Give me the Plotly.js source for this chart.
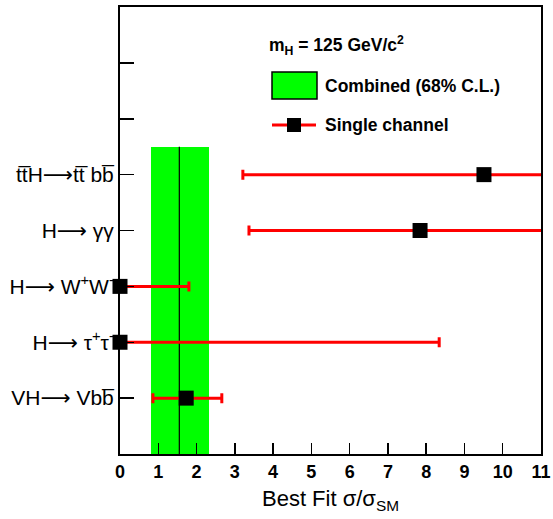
<!DOCTYPE html>
<html>
<head>
<meta charset="utf-8">
<script src="https://cdn.plot.ly/plotly-3.0.1.min.js"></script>
<style>html,body{margin:0;padding:0;background:#fff;}#chart{width:553px;height:519px;}</style>
</head>
<body>
<div id="chart"></div>
<script>
// Channels (bottom to top)
const channels = ["VH\u27f6 Vb\u0062\u0305", "H\u27f6 \u03c4<sup>+</sup>\u03c4<sup>-</sup>", "H\u27f6 W<sup>+</sup>W<sup>-</sup>", "H\u27f6 \u03b3\u03b3", "t\u0074\u0305H\u27f6t\u0074\u0305 b\u0062\u0305"];
const channelPos = [1, 2, 3, 4, 5];
const bestFit = [1.73, 0, 0, 7.84, 9.51];
const errLow = [0.87, 0, 0, 4.47, 6.30];
const errHigh = [0.93, 8.34, 1.80, 6.0, 6.0];
// Combined result
const combinedBest = 1.55;
const combinedLow = 0.81;
const combinedHigh = 2.33;
const combinedTop = 5.5;
const xTicks = [0,1,2,3,4,5,6,7,8,9,10,11];

const yTickVals = [1,2,3,4,5,6,7,8];
const yTickText = channels.concat(["", "", ""]);

const FONT = "Liberation Sans, Arial, DejaVu Sans";

const traces = [
  {
    type: "bar", orientation: "v",
    x: [(combinedLow + combinedHigh) / 2],
    y: [combinedTop], base: [0],
    width: [combinedHigh - combinedLow],
    marker: {color: "#00ff00", line: {width: 0}},
    hoverinfo: "skip", showlegend: false
  },
  {
    type: "scatter", mode: "lines",
    x: [combinedBest, combinedBest], y: [0, combinedTop],
    line: {color: "#000", width: 1.2},
    hoverinfo: "skip", showlegend: false
  },
  {
    type: "scatter", mode: "markers",
    x: bestFit, y: channelPos,
    marker: {symbol: "square", size: 1, color: "rgba(0,0,0,0)"},
    error_x: {type: "data", symmetric: false, array: errHigh, arrayminus: errLow,
              color: "#ff0000", thickness: 3, width: 5},
    cliponaxis: true,
    showlegend: false
  },
  {
    type: "scatter", mode: "markers",
    x: bestFit, y: channelPos,
    marker: {symbol: "square", size: 15, color: "#000"},
    cliponaxis: false,
    showlegend: false
  }
];

const layout = {
  width: 553, height: 519,
  margin: {l: 120, r: 12, t: 7, b: 65},
  paper_bgcolor: "#fff", plot_bgcolor: "#fff",
  showlegend: false,
  bargap: 0,
  xaxis: {
    range: [0, 11], tickvals: xTicks, ticktext: xTicks.map(String),
    ticks: "inside", ticklen: 11, tickwidth: 1.5, tickcolor: "#000",
    showline: true, linewidth: 2, linecolor: "#000", mirror: true,
    showgrid: false, zeroline: false,
    tickfont: {family: FONT, size: 18, color: "#000", weight: "bold"},
    title: {text: "Best Fit \u03c3/\u03c3<sub>SM</sub>", font: {family: FONT, size: 22, color: "#000"}, standoff: 10}
  },
  yaxis: {
    range: [0, 8], tickvals: yTickVals, ticktext: yTickText,
    ticks: "inside", ticklen: 14, tickwidth: 1.5, tickcolor: "#000",
    showline: true, linewidth: 2, linecolor: "#000", mirror: true,
    showgrid: false, zeroline: false,
    tickfont: {family: FONT, size: 21, color: "#000"}
  },
  shapes: [
    {type: "rect", xref: "paper", yref: "paper", x0: (272-120)/421, x1: (317-120)/421,
     y0: (454-99)/447, y1: (454-72)/447, fillcolor: "#00ff00", line: {color: "#000", width: 1.5}},
    {type: "line", xref: "paper", yref: "paper", x0: (272-120)/421, x1: (316-120)/421,
     y0: (454-125)/447, y1: (454-125)/447, line: {color: "#ff0000", width: 3}},
    {type: "rect", xref: "paper", yref: "paper", x0: (287-120)/421, x1: (301-120)/421,
     y0: (454-132)/447, y1: (454-118)/447, fillcolor: "#000", line: {width: 0}}
  ],
  annotations: [
    {xref: "paper", yref: "paper", x: (267-120)/421, y: (454-46)/447, xanchor: "left", yanchor: "middle",
     text: "<b>m<sub>H</sub> = 125 GeV/c<sup>2</sup></b>", showarrow: false,
     font: {family: FONT, size: 17.5, color: "#000"}},
    {xref: "paper", yref: "paper", x: (323-120)/421, y: (454-86)/447, xanchor: "left", yanchor: "middle",
     text: "<b>Combined (68% C.L.)</b>", showarrow: false,
     font: {family: FONT, size: 17.5, color: "#000"}},
    {xref: "paper", yref: "paper", x: (323-120)/421, y: (454-125)/447, xanchor: "left", yanchor: "middle",
     text: "<b>Single channel</b>", showarrow: false,
     font: {family: FONT, size: 17.5, color: "#000"}}
  ]
};

Plotly.newPlot("chart", traces, layout, {displayModeBar: false, staticPlot: true});
</script>
</body>
</html>
